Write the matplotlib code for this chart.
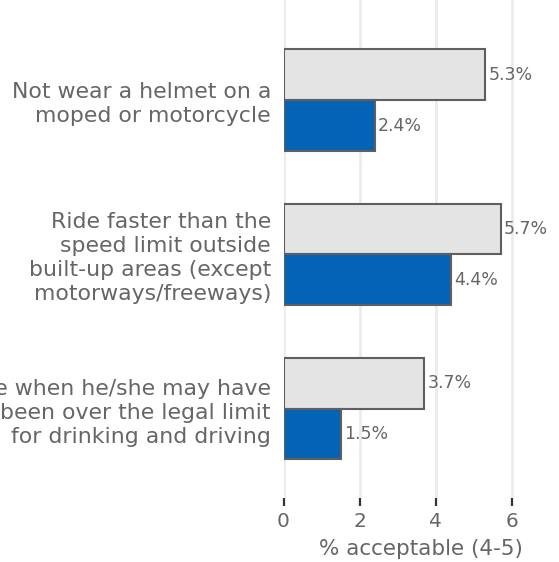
import matplotlib
matplotlib.use("Agg")
from matplotlib import pyplot as plt
import numpy as np

# Data
categories = [
    "Not wear a helmet on a\nmoped or motorcycle",
    "Ride faster than the\nspeed limit outside\nbuilt-up areas (except\nmotorways/freeways)",
    "Drive when he/she may have\nbeen over the legal limit\nfor drinking and driving",
]
grey_values = [5.3, 5.7, 3.7]
blue_values = [2.4, 4.4, 1.5]
x_ticks = [0, 2, 4, 6]
x_label = "% acceptable (4-5)"

txt_color = "#666666"
plt.rcParams['font.family'] = ['DejaVu Sans']

fig = plt.figure(figsize=(5.59, 5.62), dpi=100)
ax = fig.add_axes([283.5 / 559, 64 / 562, 275.5 / 559, 498 / 562])

y = np.arange(len(categories))
h = 0.33
ax.barh(y - h / 2, grey_values, height=h, color="#e4e4e4", edgecolor="#5f5f5f",
        linewidth=1.5, zorder=3)
ax.barh(y + h / 2, blue_values, height=h, color="#0563b5", edgecolor="#5f5f5f",
        linewidth=1.5, zorder=3)

for yi, v in zip(y, grey_values):
    ax.text(v + 0.08, yi - h / 2, f"{v:.1f}%", va="center", ha="left",
            fontsize=12.5, color=txt_color)
for yi, v in zip(y, blue_values):
    ax.text(v + 0.08, yi + h / 2, f"{v:.1f}%", va="center", ha="left",
            fontsize=12.5, color=txt_color)

ax.set_xlim(0, 275.5 / 38.1)
ax.set_ylim(2.58, -0.65)
ax.set_xticks(x_ticks)
ax.set_xticklabels([str(t) for t in x_ticks], fontsize=14.5, color=txt_color)
ax.set_yticks(y)
ax.set_yticklabels(categories, fontsize=15.8, color=txt_color, ha="right",
                   linespacing=1.25)
ax.tick_params(axis="y", length=0, pad=9)
ax.tick_params(axis="x", length=6, width=1.6, color="#333333", pad=4)
ax.set_xlabel(x_label, fontsize=15.5, color=txt_color, labelpad=6)

ax.grid(axis="x", color="#ebebeb", linewidth=2, zorder=0)
for s in ax.spines.values():
    s.set_visible(False)

fig.savefig("out.png", dpi=100)
